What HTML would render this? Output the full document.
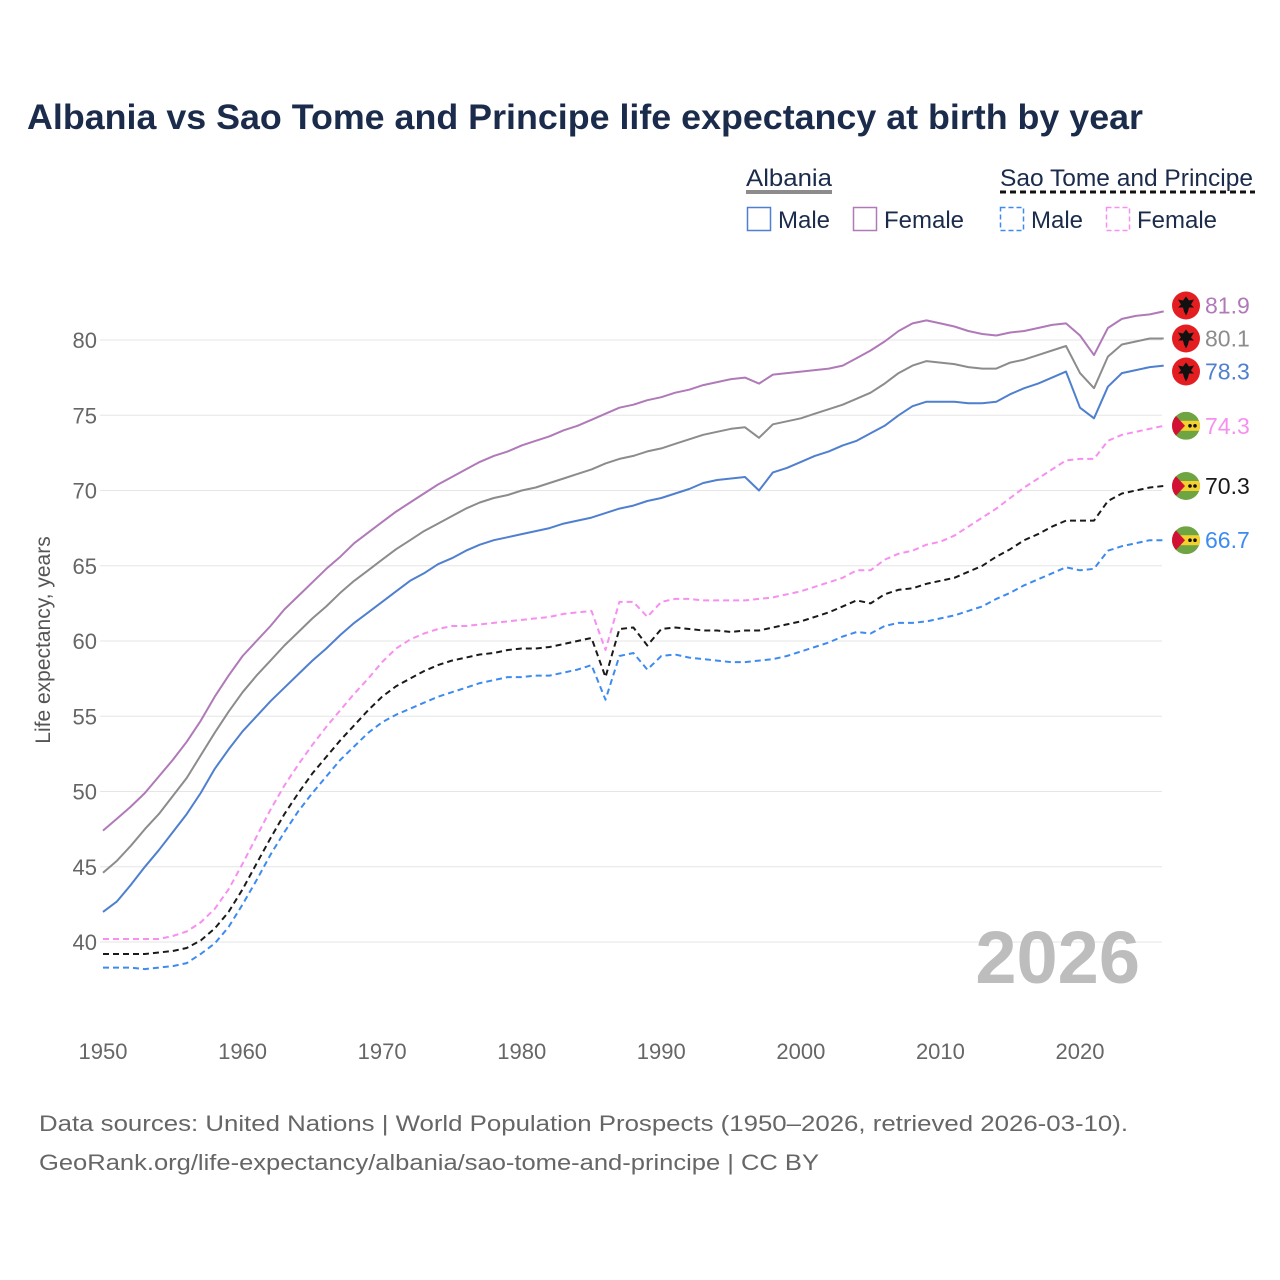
<!DOCTYPE html>
<html><head><meta charset="utf-8"><style>
html,body{margin:0;padding:0;background:#fff}
svg{display:block;font-family:"Liberation Sans",sans-serif}
</style></head><body>
<svg id="chart" width="1280" height="1280" viewBox="0 0 1280 1280" xmlns="http://www.w3.org/2000/svg">
<defs>
<clipPath id="fc"><circle cx="0" cy="0" r="14"/></clipPath>
</defs>
<text x="27" y="129" font-size="35" font-weight="bold" fill="#1b2b4b" textLength="1116" lengthAdjust="spacingAndGlyphs">Albania vs Sao Tome and Principe life expectancy at birth by year</text>
<g font-size="24" fill="#1b2b4b">
<text x="746" y="186" textLength="86" lengthAdjust="spacingAndGlyphs">Albania</text>
<line x1="746" y1="192" x2="832" y2="192" stroke="#8c8c8c" stroke-width="4"/>
<text x="1000" y="186" textLength="253" lengthAdjust="spacingAndGlyphs">Sao Tome and Principe</text>
<line x1="1000" y1="192" x2="1255" y2="192" stroke="#111" stroke-width="3" stroke-dasharray="6,4"/>
<g><rect x="747.5" y="207.5" width="23" height="23" fill="none" stroke="#4f7fcf" stroke-width="1.5"/><text x="778" y="228">Male</text></g>
<g><rect x="853.5" y="207.5" width="23" height="23" fill="none" stroke="#b07ab8" stroke-width="1.5"/><text x="884" y="228">Female</text></g>
<g><rect x="1000.5" y="207.5" width="23" height="23" fill="none" stroke="#3d8bf0" stroke-width="1.5" stroke-dasharray="5,3"/><text x="1031" y="228">Male</text></g>
<g><rect x="1106.5" y="207.5" width="23" height="23" fill="none" stroke="#f78ff0" stroke-width="1.5" stroke-dasharray="5,3"/><text x="1137" y="228">Female</text></g>
</g>
<g id="grid"></g>
<g id="axes"></g>
<text transform="translate(50,640) rotate(-90)" text-anchor="middle" font-size="21" fill="#555">Life expectancy, years</text>
<text x="1140" y="983" text-anchor="end" font-size="74" font-weight="bold" fill="#bdbdbd">2026</text>
<g id="series"></g>
<g id="labels"></g>
<g font-size="22" fill="#666">
<text x="39" y="1131" textLength="1089" lengthAdjust="spacingAndGlyphs">Data sources: United Nations | World Population Prospects (1950–2026, retrieved 2026-03-10).</text>
<text x="39" y="1170" textLength="780" lengthAdjust="spacingAndGlyphs">GeoRank.org/life-expectancy/albania/sao-tome-and-principe | CC BY</text>
</g>
</svg>
<script>
const startYear = 1950;
const xTicks = [1950,1960,1970,1980,1990,2000,2010,2020];
const yTicks = [40,45,50,55,60,65,70,75,80];
const albaniaFemale = [47.4,48.2,49.0,49.9,51.0,52.1,53.3,54.7,56.3,57.7,59.0,60.0,61.0,62.1,63.0,63.9,64.8,65.6,66.5,67.2,67.9,68.6,69.2,69.8,70.4,70.9,71.4,71.9,72.3,72.6,73.0,73.3,73.6,74.0,74.3,74.7,75.1,75.5,75.7,76.0,76.2,76.5,76.7,77.0,77.2,77.4,77.5,77.1,77.7,77.8,77.9,78.0,78.1,78.3,78.8,79.3,79.9,80.6,81.1,81.3,81.1,80.9,80.6,80.4,80.3,80.5,80.6,80.8,81.0,81.1,80.3,79.0,80.8,81.4,81.6,81.7,81.9];
const albaniaTotal = [44.6,45.4,46.4,47.5,48.5,49.7,50.9,52.4,53.9,55.3,56.6,57.7,58.7,59.7,60.6,61.5,62.3,63.2,64.0,64.7,65.4,66.1,66.7,67.3,67.8,68.3,68.8,69.2,69.5,69.7,70.0,70.2,70.5,70.8,71.1,71.4,71.8,72.1,72.3,72.6,72.8,73.1,73.4,73.7,73.9,74.1,74.2,73.5,74.4,74.6,74.8,75.1,75.4,75.7,76.1,76.5,77.1,77.8,78.3,78.6,78.5,78.4,78.2,78.1,78.1,78.5,78.7,79.0,79.3,79.6,77.8,76.8,78.9,79.7,79.9,80.1,80.1];
const albaniaMale = [42.0,42.7,43.8,45.0,46.1,47.3,48.5,49.9,51.5,52.8,54.0,55.0,56.0,56.9,57.8,58.7,59.5,60.4,61.2,61.9,62.6,63.3,64.0,64.5,65.1,65.5,66.0,66.4,66.7,66.9,67.1,67.3,67.5,67.8,68.0,68.2,68.5,68.8,69.0,69.3,69.5,69.8,70.1,70.5,70.7,70.8,70.9,70.0,71.2,71.5,71.9,72.3,72.6,73.0,73.3,73.8,74.3,75.0,75.6,75.9,75.9,75.9,75.8,75.8,75.9,76.4,76.8,77.1,77.5,77.9,75.5,74.8,76.9,77.8,78.0,78.2,78.3];
const stpFemale = [40.2,40.2,40.2,40.2,40.2,40.4,40.7,41.3,42.2,43.5,45.2,47.0,48.8,50.4,51.8,53.1,54.3,55.4,56.5,57.5,58.6,59.5,60.1,60.5,60.8,61.0,61.0,61.1,61.2,61.3,61.4,61.5,61.6,61.8,61.9,62.0,59.4,62.6,62.6,61.6,62.6,62.8,62.8,62.7,62.7,62.7,62.7,62.8,62.9,63.1,63.3,63.6,63.9,64.2,64.7,64.7,65.4,65.8,66.0,66.4,66.6,67.0,67.6,68.2,68.8,69.5,70.2,70.8,71.4,72.0,72.1,72.1,73.3,73.7,73.9,74.1,74.3];
const stpTotal = [39.2,39.2,39.2,39.2,39.3,39.4,39.6,40.1,40.9,42.0,43.5,45.2,46.9,48.5,49.9,51.2,52.3,53.4,54.4,55.4,56.3,57.0,57.5,58.0,58.4,58.7,58.9,59.1,59.2,59.4,59.5,59.5,59.6,59.8,60.0,60.2,57.6,60.8,60.9,59.7,60.8,60.9,60.8,60.7,60.7,60.6,60.7,60.7,60.9,61.1,61.3,61.6,61.9,62.3,62.7,62.5,63.1,63.4,63.5,63.8,64.0,64.2,64.6,65.0,65.6,66.1,66.7,67.1,67.6,68.0,68.0,68.0,69.3,69.8,70.0,70.2,70.3];
const stpMale = [38.3,38.3,38.3,38.2,38.3,38.4,38.6,39.2,39.9,41.0,42.5,44.1,45.8,47.3,48.7,49.9,51.0,52.1,53.0,53.9,54.6,55.1,55.5,55.9,56.3,56.6,56.9,57.2,57.4,57.6,57.6,57.7,57.7,57.9,58.1,58.4,56.1,59.0,59.2,58.1,59.0,59.1,58.9,58.8,58.7,58.6,58.6,58.7,58.8,59.0,59.3,59.6,59.9,60.3,60.6,60.5,61.0,61.2,61.2,61.3,61.5,61.7,62.0,62.3,62.8,63.2,63.7,64.1,64.5,64.9,64.7,64.8,66.0,66.3,66.5,66.7,66.7];

const NS='http://www.w3.org/2000/svg';
const x = yr => 103 + (yr - 1950) * (977/70);
const y = v => 340 + (80 - v) * 15.05;
function mk(tag, attrs, parent){const e=document.createElementNS(NS,tag);for(const k in attrs)e.setAttribute(k,attrs[k]);parent.appendChild(e);return e;}
const grid=document.getElementById('grid'), axes=document.getElementById('axes');
yTicks.forEach(t=>{
  const l=mk('line',{x1:100,x2:1162,y1:y(t),y2:y(t),stroke:'#e6e6e6','stroke-width':1},grid);
  
  
  const tx=mk('text',{x:97,y:y(t)+8,'text-anchor':'end','font-size':22,fill:'#666'},axes);
  tx.textContent=t;
  
  
});
xTicks.forEach(t=>{
  const tx=mk('text',{x:x(t),y:1059,'text-anchor':'middle','font-size':22,fill:'#666'},axes);
  tx.textContent=t;
  
  
});
const seriesDefs=[
 {d:albaniaFemale,c:'#b07ab8',lc:'#b07ab8',dash:null,n:'albania-female',f:'al'},
 {d:albaniaTotal,c:'#8c8c8c',lc:'#8c8c8c',dash:null,n:'albania-total',f:'al'},
 {d:albaniaMale,c:'#4f7fcf',lc:'#4f7fcf',dash:null,n:'albania-male',f:'al'},
 {d:stpFemale,c:'#f78ff0',lc:'#f78ff0',dash:'6,4',n:'stp-female',f:'st'},
 {d:stpTotal,c:'#1a1a1a',lc:'#1a1a1a',dash:'6,4',n:'stp-total',f:'st'},
 {d:stpMale,c:'#3d8bf0',lc:'#3d8bf0',dash:'6,4',n:'stp-male',f:'st'}
];
const sg=document.getElementById('series');
seriesDefs.forEach(s=>{
  const pts=s.d.map((v,i)=>x(startYear+i).toFixed(1)+','+y(v).toFixed(1)).join(' ');
  const a={points:pts,fill:'none',stroke:s.c,'stroke-width':2,'stroke-linejoin':'round'};
  if(s.dash)a['stroke-dasharray']=s.dash;
  const p=mk('polyline',a,sg);
  
  
});
// label placement with cluster centering
const items=seriesDefs.map(s=>({s,t:y(s.d[s.d.length-1])})).sort((a,b)=>a.t-b.t);
const gap=33;
let clusters=items.map(it=>({items:[it],top:it.t}));
let changed=true;
while(changed){changed=false;
  for(let i=0;i<clusters.length-1;i++){
    const a=clusters[i],b=clusters[i+1];
    if(a.top+(a.items.length)*gap>b.top){
      const all=a.items.concat(b.items);
      const mean=all.reduce((q,it)=>q+it.t,0)/all.length;
      clusters.splice(i,2,{items:all,top:mean-(all.length-1)*gap/2});
      changed=true;break;}
  }}
const lg=document.getElementById('labels');
clusters.forEach(c=>c.items.forEach((it,k)=>{
  const ly=c.top+k*gap, s=it.s, v=s.d[s.d.length-1];
  const g=mk('g',{transform:'translate(1186,'+ly.toFixed(1)+')'},lg);
  
  
  if(s.f==='al'){
    mk('circle',{r:14,fill:'#e41e20'},g);
    mk('path',{d:'M0,-9 L3,-5 L8,-6 L5,-1 L8,2 L3,2 L2,6 L0,10 L-2,6 L-3,2 L-8,2 L-5,-1 L-8,-6 L-3,-5 Z',fill:'#111'},g);
  } else {
    const cg=mk('g',{'clip-path':'url(#fc)'},g);
    mk('rect',{x:-14,y:-14,width:28,height:28,fill:'#6ea441'},cg);
    mk('rect',{x:-14,y:-5,width:28,height:10,fill:'#f5d130'},cg);
    mk('path',{d:'M-14,-14 L-1,0 L-14,14 Z',fill:'#d21034'},cg);
    mk('circle',{cx:4,cy:0,r:1.8,fill:'#111'},cg);
    mk('circle',{cx:9,cy:0,r:1.8,fill:'#111'},cg);
  }
  const t=mk('text',{x:1205,y:(ly+8).toFixed(1),'font-size':23,fill:s.lc},lg);
  t.textContent=v.toFixed(1);
  
  
}));
</script>
</body></html>
